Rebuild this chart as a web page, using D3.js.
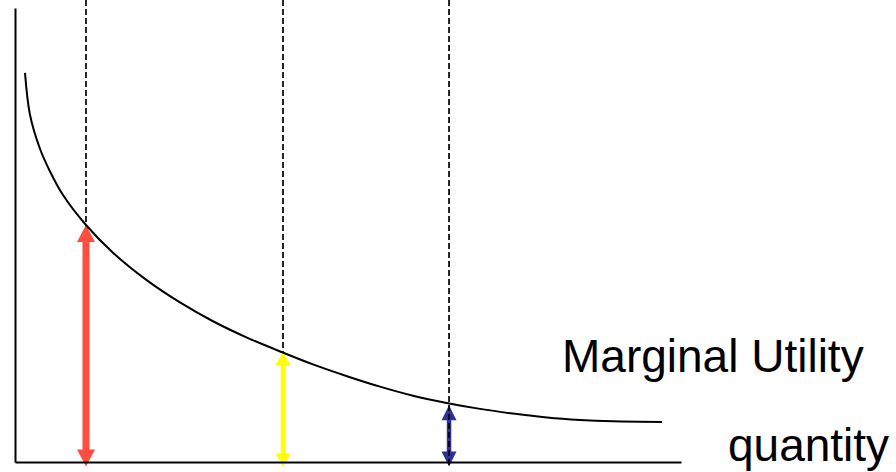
<!DOCTYPE html>
<html>
<head>
<meta charset="utf-8">
<script src="https://cdn.jsdelivr.net/npm/d3@7"></script>
<style>
  html, body { margin: 0; padding: 0; background: #fff; }
  svg { display: block; }
  text { font-family: "Liberation Sans", Arial, sans-serif; fill: #000; }
</style>
</head>
<body>
<svg id="chart" width="896" height="472"></svg>
<script>
// ---- data ----
const curveQuantity = [1.5, 2.25, 3.75, 5.26, 7.21, 10.66, 14.71, 19.82, 24.77, 29.73, 34.83, 40.24, 44.74, 49.85, 54.8, 59.76, 64.8, 69.82, 74.77, 79.88, 84.83, 89.79, 97.15];
const curveUtility  = [85.7, 76.5, 69.0, 64.0, 58.8, 52.2, 46.1, 40.0, 35.15, 31.0, 27.4, 24.1, 21.5, 18.9, 16.6, 14.6, 13.0, 11.7, 10.67, 9.8, 9.26, 8.96, 8.81];

const markerQuantity = [10.66, 40.24, 65.17];
const markerUtility  = [52.2, 24.2, 12.5];
const markerNames    = ["first", "second", "third"];

const labelMU = "Marginal Utility";
const labelQ  = "quantity";

// ---- styles ----
const arrowStyle = {
  first:  { color: "#FF4D40", shaft: 7,   headW: 18, headL: 17, underDash: false },
  second: { color: "#FFFF00", shaft: 4.5, headW: 15, headL: 13, underDash: false },
  third:  { color: "#2E3192", shaft: 4.5, headW: 15, headL: 15, underDash: true }
};

const x = d3.scaleLinear().domain([0, 100]).range([15, 681]);
const y = d3.scaleLinear().domain([0, 100]).range([462, 8]);

const svg = d3.select("#chart");

const curveData = curveQuantity.map((q, i) => ({ q, u: curveUtility[i] }));
const markers = markerQuantity.map((q, i) => ({ q, u: markerUtility[i], name: markerNames[i], s: arrowStyle[markerNames[i]] }));

const overshoot = 4.5; // arrow tips pass slightly below the axis

function drawArrow(g, d) {
  const cx = x(d.q);
  const yTop = y(d.u);
  const yBot = y(0) + overshoot;
  const s = d.s;
  const hw = s.headW / 2, sw = s.shaft / 2;
  const p = d3.path();
  p.moveTo(cx, yTop);
  p.lineTo(cx + hw, yTop + s.headL);
  p.lineTo(cx + sw, yTop + s.headL);
  p.lineTo(cx + sw, yBot - s.headL);
  p.lineTo(cx + hw, yBot - s.headL);
  p.lineTo(cx, yBot);
  p.lineTo(cx - hw, yBot - s.headL);
  p.lineTo(cx - sw, yBot - s.headL);
  p.lineTo(cx - sw, yTop + s.headL);
  p.lineTo(cx - hw, yTop + s.headL);
  p.closePath();
  g.append("path").attr("d", p.toString()).attr("fill", s.color);
}

// arrows under dashed lines
const under = svg.append("g");
markers.filter(d => d.s.underDash).forEach(d => drawArrow(under, d));

// dashed guide lines
svg.append("g").selectAll("line").data(markers).join("line")
  .attr("x1", d => x(d.q)).attr("x2", d => x(d.q))
  .attr("y1", 0).attr("y2", y(0) + overshoot)
  .attr("stroke", "#000").attr("stroke-width", 1.7)
  .attr("stroke-dasharray", "6,3");

// arrows over dashed lines
const over = svg.append("g");
markers.filter(d => !d.s.underDash).forEach(d => drawArrow(over, d));

// marginal utility curve
const line = d3.line().x(d => x(d.q)).y(d => y(d.u)).curve(d3.curveCatmullRom.alpha(0.5));
svg.append("path").datum(curveData).attr("d", line)
  .attr("fill", "none").attr("stroke", "#000").attr("stroke-width", 2);

// axes (no ticks)
const xAxis = svg.append("g").attr("transform", `translate(0,${y(0)})`)
  .call(d3.axisBottom(x).tickValues([]).tickSizeOuter(0));
const yAxis = svg.append("g").attr("transform", `translate(${x(0)},0)`)
  .call(d3.axisLeft(y).tickValues([]).tickSizeOuter(0));
[xAxis, yAxis].forEach(a => a.select(".domain").attr("stroke", "#000").attr("stroke-width", 2));

// labels
svg.append("text").attr("x", 562).attr("y", 372).attr("font-size", 46).text(labelMU);
svg.append("text").attr("x", 728).attr("y", 461).attr("font-size", 46).text(labelQ);
</script>
</body>
</html>
